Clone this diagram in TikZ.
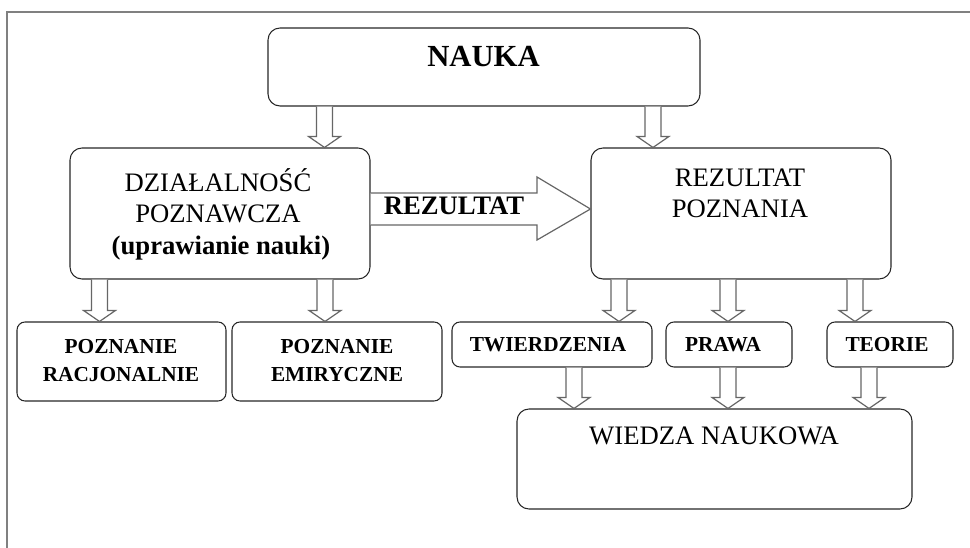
\documentclass[tikz,border=0pt]{standalone}
\usepackage{fontspec}
\setmainfont{Liberation Serif}
\usetikzlibrary{calc}
\tikzset{
  box/.style={draw=black!85, line width=0.8pt, rounded corners=9pt, inner sep=0pt},
  sbox/.style={box, rounded corners=6pt},
  barrow/.style={draw=black!60, line width=0.9pt, fill=white, line join=miter},
  frameline/.style={draw=black!50, line width=1.3pt},
  bigtxt/.style={font=\fontsize{20}{24}\selectfont, anchor=base, inner sep=0pt},
  bigbold/.style={font=\fontsize{20}{24}\selectfont\bfseries, anchor=base, inner sep=0pt},
  smalltxt/.style={font=\fontsize{16}{19}\selectfont\bfseries, anchor=base, inner sep=0pt},
  titletxt/.style={font=\fontsize{23}{27}\selectfont\bfseries, anchor=base, inner sep=0pt},
}
\newcommand\bdarrow[3]{%
  \draw[barrow] ($(#1,0 |- #2.south)+(-8,0)$) -- ($(#1,0 |- #3.north)+(-8,-11)$)
    -- ($(#1,0 |- #3.north)+(-16,-11)$) -- (#1,0 |- #3.north)
    -- ($(#1,0 |- #3.north)+(16,-11)$) -- ($(#1,0 |- #3.north)+(8,-11)$)
    -- ($(#1,0 |- #2.south)+(8,0)$);}
\begin{document}
\begin{tikzpicture}[x=0.75pt, y=-0.75pt]
\useasboundingbox (0,0) rectangle (970,548);
\draw[frameline] (7,548) -- (7,12) -- (970,12);

% boxes
\node[box, minimum width=324pt, minimum height=58.5pt] (nauka) at (484,67) {};
\node[box, minimum width=225pt, minimum height=98.25pt] (dz) at (220,213.5) {};
\node[box, minimum width=225pt, minimum height=98.25pt] (rez) at (741,213.5) {};
\node[sbox, minimum width=156.75pt, minimum height=59.25pt] (rac) at (121.5,361.5) {};
\node[sbox, minimum width=157.5pt, minimum height=59.25pt] (emp) at (337,361.5) {};
\node[sbox, minimum width=150pt, minimum height=33.75pt] (twi) at (552,344.5) {};
\node[sbox, minimum width=94.5pt, minimum height=33.75pt] (pra) at (729,344.5) {};
\node[sbox, minimum width=94.5pt, minimum height=33.75pt] (teo) at (890,344.5) {};
\node[box, minimum width=296.25pt, minimum height=75pt] (wie) at (714.5,459) {};

% texts
\node[titletxt] (tnauka) at (483.5,67) {NAUKA};
\node[bigtxt] (tdz1) at (218,192) {DZIAŁALNOŚĆ};
\node[bigtxt] (tdz2) at (218,223) {POZNAWCZA};
\node[bigbold] (tdz3) at (221,255) {(uprawianie nauki)};
\node[bigtxt] (trez1) at (740,187) {REZULTAT};
\node[bigtxt] (trez2) at (740,218) {POZNANIA};
\node[smalltxt] (trac1) at (121,354) {POZNANIE};
\node[smalltxt] (trac2) at (121,382) {RACJONALNIE};
\node[smalltxt] (temp1) at (337,354) {POZNANIE};
\node[smalltxt] (temp2) at (337,382) {EMIRYCZNE};
\node[smalltxt] (ttwi) at (548,352) {TWIERDZENIA};
\node[smalltxt] (tpra) at (723,352) {PRAWA};
\node[smalltxt] (tteo) at (887,352) {TEORIE};
\node[bigtxt] (twie) at (714,445) {WIEDZA NAUKOWA};

% block arrows
\bdarrow{324.5}{nauka}{dz}
\bdarrow{653}{nauka}{rez}
\bdarrow{99.5}{dz}{rac}
\bdarrow{325}{dz}{emp}
\bdarrow{619}{rez}{twi}
\bdarrow{728}{rez}{pra}
\bdarrow{855}{rez}{teo}
\bdarrow{574}{twi}{wie}
\bdarrow{728}{pra}{wie}
\bdarrow{869}{teo}{wie}

% big right arrow
\draw[barrow] (dz.east |- 0,193) -- (537,193) -- (537,177) -- (rez.west |- 0,209)
  -- (537,240) -- (537,225) -- (dz.east |- 0,225);
\node[bigbold] (trezl) at (454,215) {REZULTAT};
\end{tikzpicture}
\end{document}
